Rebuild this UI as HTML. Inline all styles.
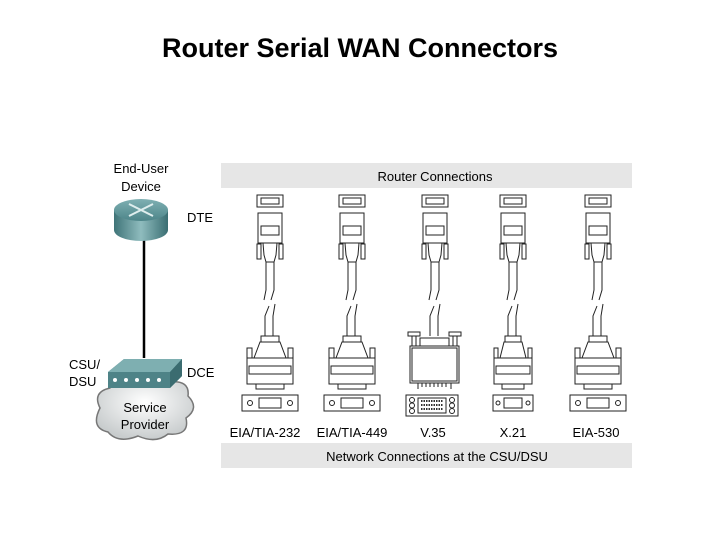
<!DOCTYPE html>
<html><head><meta charset="utf-8"><style>
html,body{margin:0;padding:0;background:#fff;width:720px;height:540px;overflow:hidden}
svg{display:block}
text{font-family:"Liberation Sans",Arial,sans-serif}
</style></head><body>
<svg width="720" height="540" viewBox="0 0 720 540" xmlns="http://www.w3.org/2000/svg">
<defs>
<linearGradient id="rb" x1="0" x2="1" y1="0" y2="0">
<stop offset="0" stop-color="#3f7478"/><stop offset="0.5" stop-color="#8fbcbe"/><stop offset="1" stop-color="#3a6e72"/></linearGradient>
<linearGradient id="rt" x1="0" x2="0" y1="0" y2="1">
<stop offset="0" stop-color="#7fb0b3"/><stop offset="1" stop-color="#4d8589"/></linearGradient>
<radialGradient id="cl" cx="0.5" cy="0.4" r="0.6"><stop offset="0" stop-color="#fff"/><stop offset="1" stop-color="#c8cccd"/></radialGradient>
<g id="top" fill="#fff" stroke="#222" stroke-width="1">
<rect x="-13" y="195" width="26" height="12"/><rect x="-9" y="198" width="18" height="6"/>
<rect x="-12" y="213" width="24" height="30"/><rect x="-9" y="226" width="18" height="9"/>
<rect x="-13" y="244" width="4" height="15"/><rect x="9" y="244" width="4" height="15"/>
<path d="M-7 243 L7 243 L6 255 L4 262 L-4 262 L-6 255 Z"/>
<path d="M-4 262 L-4 290 L-6 300 M4 262 L4 290 L1 300" fill="none"/>
<path d="M-1 306 L-5 316 L-5 336 M5 304 L3 316 L3 336" fill="none"/>
</g>
<g id="db" fill="#fff" stroke="#222" stroke-width="1">
<rect x="-9" y="336" width="18" height="6"/>
<path d="M-10 342 L10 342 L16 358 L-16 358 Z"/>
<rect x="-23" y="348" width="5" height="10"/><rect x="18" y="348" width="5" height="10"/>
<rect x="-23" y="358" width="46" height="26"/><rect x="-21" y="366" width="42" height="8"/>
<rect x="-14" y="384" width="28" height="5"/>
<rect x="-28" y="395" width="56" height="16"/><rect x="-11" y="398" width="22" height="10"/>
<circle cx="-20" cy="403" r="2.5"/><circle cx="20" cy="403" r="2.5"/>
</g>
</defs>
<text x="360" y="57" font-size="27" font-weight="bold" text-anchor="middle" fill="#000">Router Serial WAN Connectors</text>
<rect x="221" y="163" width="411" height="25" fill="#e6e6e6"/>
<text x="435" y="181" font-size="13" text-anchor="middle">Router Connections</text>
<rect x="221" y="443" width="411" height="25" fill="#e6e6e6"/>
<text x="437" y="461" font-size="13" text-anchor="middle">Network Connections at the CSU/DSU</text>
<use href="#top" x="270"/><use href="#db" x="270"/>
<use href="#top" x="352"/><use href="#db" x="352"/>
<use href="#top" x="435"/>
<use href="#top" x="513"/>
<use href="#top" x="598"/><use href="#db" x="598"/>
<g transform="translate(513 0)" fill="#fff" stroke="#222">
<rect x="-8" y="336" width="16" height="6"/>
<path d="M-9 342 L9 342 L13 358 L-13 358 Z"/>
<rect x="-19" y="348" width="4" height="10"/><rect x="15" y="348" width="4" height="10"/>
<rect x="-19" y="358" width="38" height="26"/><rect x="-17" y="366" width="34" height="8"/>
<rect x="-11" y="384" width="22" height="5"/>
<rect x="-20" y="395" width="40" height="16"/><rect x="-9" y="398" width="18" height="10"/>
<circle cx="-15" cy="403" r="2"/><circle cx="15" cy="403" r="2"/>
</g>
<g fill="#fff" stroke="#222">
<rect x="408" y="332" width="12" height="4"/><rect x="449" y="332" width="12" height="4"/>
<rect x="412" y="336" width="4" height="10"/><rect x="453" y="336" width="4" height="10"/>
<rect x="420" y="338" width="29" height="10"/>
<rect x="410" y="346" width="49" height="37"/><rect x="412" y="348" width="45" height="33" fill="none"/>
<path d="M418 383 V389 M422 383 V387 M426 383 V387 M430 383 V387 M434 383 V387 M438 383 V387 M442 383 V387 M446 383 V387 M451 383 V389" fill="none"/>
<rect x="406" y="395" width="52" height="21"/>
<circle cx="412" cy="400" r="2.5"/><circle cx="412" cy="405.5" r="2.5"/><circle cx="412" cy="411" r="2.5"/>
<circle cx="452" cy="400" r="2.5"/><circle cx="452" cy="405.5" r="2.5"/><circle cx="452" cy="411" r="2.5"/>
<rect x="418" y="398" width="28" height="15"/>
</g>
<path d="M421 401 H443 M421 405 H443 M421 409 H443" stroke="#333" stroke-width="2" stroke-dasharray="1.5 1"/>
<g font-size="13" text-anchor="middle">
<text x="265" y="437">EIA/TIA-232</text><text x="352" y="437">EIA/TIA-449</text>
<text x="433" y="437">V.35</text><text x="513" y="437">X.21</text><text x="596" y="437">EIA-530</text>
</g>
<text x="141" y="173" font-size="13" text-anchor="middle">End-User</text>
<text x="141" y="191" font-size="13" text-anchor="middle">Device</text>
<text x="187" y="222" font-size="13">DTE</text>
<line x1="144" y1="240" x2="144" y2="358" stroke="#000" stroke-width="2.5"/>
<path d="M114 210 V230 A27 11 0 0 0 168 230 V210 Z" fill="url(#rb)"/>
<ellipse cx="141" cy="210" rx="27" ry="11" fill="url(#rt)"/>
<path d="M129 204 L153 216 M153 204 L129 216" stroke="#dfeeee" stroke-width="2"/>
<path d="M100 408 Q92 392 110 388 Q118 376 138 382 Q152 372 170 382 Q190 380 188 396 Q200 408 186 418 Q190 436 168 434 Q156 444 138 436 Q118 444 108 432 Q90 428 100 408 Z" fill="url(#cl)" stroke="#777" stroke-width="1.5"/>
<path d="M108 372 L124 359 L182 359 L182 376 L170 388 L108 388 Z" fill="#4e8387"/>
<path d="M108 372 L124 359 L182 359 L170 372 Z" fill="#7eafb1"/>
<path d="M170 372 L182 359 L182 376 L170 388 Z" fill="#3b6c70"/>
<g fill="#fff"><circle cx="115" cy="380" r="2"/><circle cx="126" cy="380" r="2"/><circle cx="137" cy="380" r="2"/><circle cx="148" cy="380" r="2"/><circle cx="159" cy="380" r="2"/></g>
<text x="145" y="412" font-size="13" text-anchor="middle">Service</text>
<text x="145" y="429" font-size="13" text-anchor="middle">Provider</text>
<text x="69" y="369" font-size="13">CSU/</text>
<text x="69" y="386" font-size="13">DSU</text>
<text x="187" y="377" font-size="13">DCE</text>
</svg>
</body></html>
